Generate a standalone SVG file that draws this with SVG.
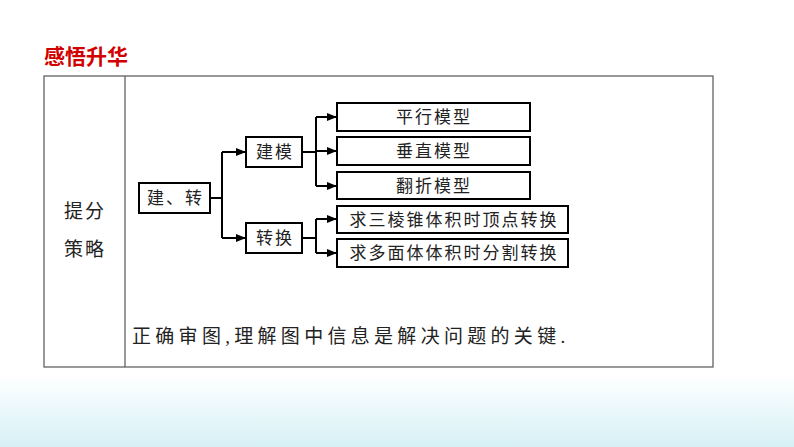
<svg xmlns="http://www.w3.org/2000/svg" width="794" height="447" viewBox="0 0 794 447">
<defs>
<style>
.b{fill:#fff;stroke:#000;stroke-width:2}
.t{font-family:"Liberation Serif","Noto Sans CJK SC",serif;font-size:17px;fill:#222;text-anchor:middle;letter-spacing:2px}
.c{fill:none;stroke:#000;stroke-width:2}
</style>
<marker id="a" markerWidth="10" markerHeight="8" refX="10" refY="4" orient="auto" markerUnits="userSpaceOnUse"><path d="M0,0L10,4L0,8z" fill="#000"/></marker>
<linearGradient id="g" x1="0" y1="0" x2="0" y2="1"><stop offset="0" stop-color="#fff"/><stop offset="1" stop-color="#d6f0f6"/></linearGradient>
</defs>
<rect width="794" height="447" fill="#fff"/>
<rect x="0" y="375" width="794" height="72" fill="url(#g)"/>
<text x="44" y="64" font-family="'Noto Sans CJK SC',sans-serif" font-size="21" font-weight="bold" fill="#d00000">感悟升华</text>
<g id="table">
<rect x="44" y="76" width="669" height="291" fill="#fff" stroke="#555" stroke-width="1.2"/>
<line x1="125" y1="76" x2="125" y2="367" stroke="#555" stroke-width="1.2"/>
<text class="t" x="85" y="218" style="font-size:19px">提分</text>
<text class="t" x="85" y="256" style="font-size:19px">策略</text>
<text x="132" y="343" font-family="'Liberation Serif','Noto Sans CJK SC',serif" font-size="19" letter-spacing="4.3" fill="#222">正确审图,理解图中信息是解决问题的关键.</text>
</g>
<g id="connectors">
<path class="c" d="M210,198H222M222,152V238"/>
<path class="c" d="M222,152H246" marker-end="url(#a)"/>
<path class="c" d="M222,238H246" marker-end="url(#a)"/>
<path class="c" d="M302,152H316M316,117V186"/>
<path class="c" d="M316,117H337" marker-end="url(#a)"/>
<path class="c" d="M316,151H337" marker-end="url(#a)"/>
<path class="c" d="M316,186H337" marker-end="url(#a)"/>
<path class="c" d="M302,238H316M316,219V253"/>
<path class="c" d="M316,219H337" marker-end="url(#a)"/>
<path class="c" d="M316,253H337" marker-end="url(#a)"/>
</g>
<g id="n0"><rect class="b" x="139" y="183" width="71" height="30"/><text class="t" x="175.5" y="204">建、转</text></g>
<g id="n1"><rect class="b" x="246" y="137" width="56" height="30"/><text class="t" x="275" y="158">建模</text></g>
<g id="n2"><rect class="b" x="246" y="223" width="56" height="30"/><text class="t" x="275" y="244">转换</text></g>
<g id="n3"><rect class="b" x="337" y="103" width="193" height="28"/><text class="t" x="434" y="123">平行模型</text></g>
<g id="n4"><rect class="b" x="337" y="137" width="193" height="28"/><text class="t" x="434" y="157">垂直模型</text></g>
<g id="n5"><rect class="b" x="337" y="172" width="193" height="27"/><text class="t" x="434" y="192">翻折模型</text></g>
<g id="n6"><rect class="b" x="337" y="206" width="231" height="27"/><text class="t" x="454" y="226">求三棱锥体积时顶点转换</text></g>
<g id="n7"><rect class="b" x="337" y="239" width="231" height="28"/><text class="t" x="454" y="259">求多面体体积时分割转换</text></g>
</svg>
